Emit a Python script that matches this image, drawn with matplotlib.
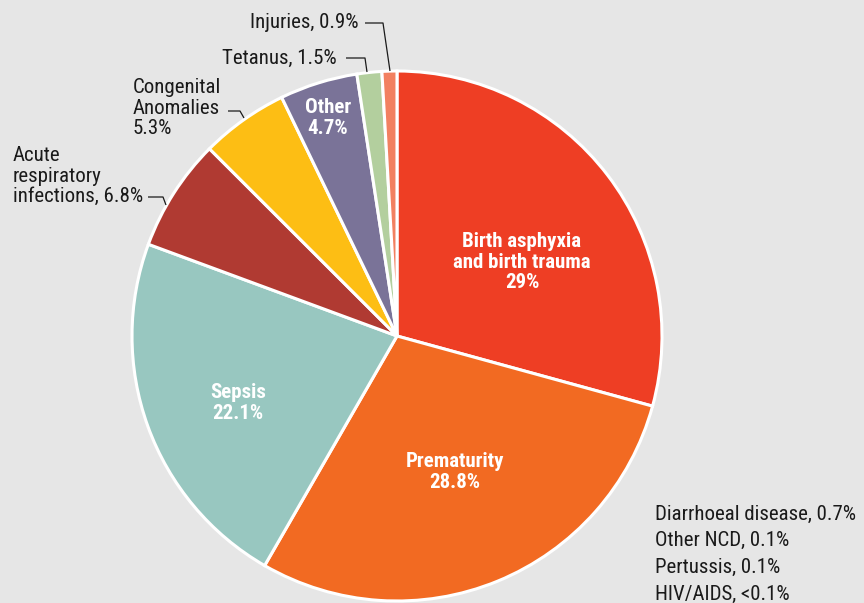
import matplotlib as mpl; mpl.use("Agg")
import matplotlib.pyplot as plt

W, H = 864, 603
BG = "#E6E6E6"
INK = "#1a1a1a"
FONT = ["Roboto Condensed", "DejaVu Sans"]

causes = ["Birth asphyxia\nand birth trauma", "Prematurity", "Sepsis",
          "Acute\nrespiratory\ninfections", "Congenital\nAnomalies", "Other",
          "Tetanus", "Injuries"]
shares = [29.0, 28.8, 22.1, 6.8, 5.3, 4.7, 1.5, 0.9]
share_txt = ["29%", "28.8%", "22.1%", "6.8%", "5.3%", "4.7%", "1.5%", "0.9%"]
colors = ["#EE3E24", "#F26A22", "#98C7C0", "#B03A32", "#FDBE14", "#7A7398",
          "#B3CF9E", "#F28060"]
minor = ["Diarrhoeal disease, 0.7%", "Other NCD, 0.1%", "Pertussis, 0.1%", "HIV/AIDS, <0.1%"]

plt.rcParams["font.family"] = FONT
FS = 15

fig = plt.figure(figsize=(W / 100, H / 100), dpi=100, facecolor=BG)
ax = fig.add_axes([0, 0, 1, 1])


def p(x, y):
    return x, H - y


cx, cy, R = 397, 336, 265
ax.pie(shares, colors=colors, startangle=90, counterclock=False,
       center=p(cx, cy), radius=R, frame=True,
       wedgeprops=dict(edgecolor="white", linewidth=2.2))
ax.set_xlim(0, W); ax.set_ylim(0, H); ax.set_aspect("equal"); ax.axis("off")

# inner labels
inner = {0: (522, 262), 1: (455, 472), 2: (238, 403), 5: (328, 118)}
for i, (x, y) in inner.items():
    ax.text(*p(x, y), f"{causes[i]}\n{share_txt[i]}", ha="center", va="center", color="white",
            fontsize=FS, fontweight="bold", linespacing=1.08)


def leader(pts):
    ax.plot([q[0] for q in pts], [H - q[1] for q in pts], color=INK, lw=0.9,
            solid_capstyle="butt")


# outer labels with leader lines
ax.text(*p(358, 22), f"{causes[7]}, {share_txt[7]}", ha="right", va="center", fontsize=FS, color=INK)
leader([(365, 23), (383, 23), (390, 71)])
ax.text(*p(337, 58), f"{causes[6]}, {share_txt[6]}", ha="right", va="center", fontsize=FS, color=INK)
leader([(346, 58), (365, 58), (367, 72)])
ax.text(*p(133, 108), f"{causes[4]}\n{share_txt[4]}", ha="left", va="center", fontsize=FS,
        color=INK, linespacing=1.08)
leader([(228, 111), (240, 111), (244, 118)])
ax.text(*p(13, 176), f"{causes[3]}, {share_txt[3]}", ha="left", va="center", fontsize=FS,
        color=INK, linespacing=1.08)
leader([(148, 197), (163, 197), (166, 205)])

for k, t in enumerate(minor):
    ax.text(*p(655, 514 + k * 26.7), t, ha="left", va="center", fontsize=FS, color=INK)

fig.savefig("out.png", dpi=100, facecolor=BG)
